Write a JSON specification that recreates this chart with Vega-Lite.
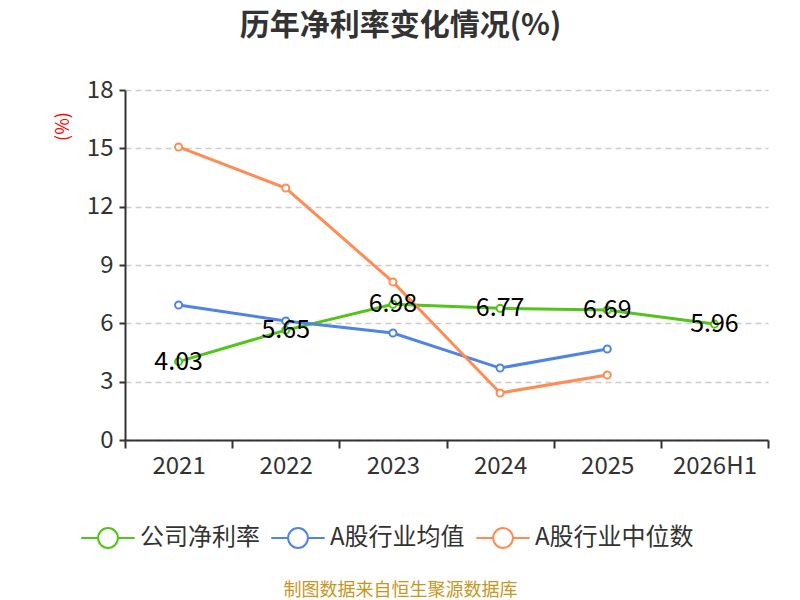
{
  "$schema": "https://vega.github.io/schema/vega-lite/v6.json",
  "width": 643,
  "height": 350,
  "autosize": {"type": "none"},
  "padding": {"left": 125, "top": 90, "right": 32, "bottom": 160},
  "background": "white",
  "config": {
    "view": {"stroke": null},
    "font": "Noto Sans CJK SC"
  },
  "title": {
    "text": "历年净利率变化情况(%)",
    "font": "Noto Sans CJK SC",
    "fontSize": 30,
    "fontWeight": "bold",
    "color": "#333333",
    "anchor": "middle",
    "dx": -46,
    "offset": 37
  },
  "data": {
    "values": [
      {"year": "2021", "series": "公司净利率", "value": 4.03},
      {"year": "2022", "series": "公司净利率", "value": 5.65},
      {"year": "2023", "series": "公司净利率", "value": 6.98},
      {"year": "2024", "series": "公司净利率", "value": 6.77},
      {"year": "2025", "series": "公司净利率", "value": 6.69},
      {"year": "2026H1", "series": "公司净利率", "value": 5.96},
      {"year": "2021", "series": "A股行业均值", "value": 6.94},
      {"year": "2022", "series": "A股行业均值", "value": 6.12},
      {"year": "2023", "series": "A股行业均值", "value": 5.5},
      {"year": "2024", "series": "A股行业均值", "value": 3.7},
      {"year": "2025", "series": "A股行业均值", "value": 4.68},
      {"year": "2021", "series": "A股行业中位数", "value": 15.07},
      {"year": "2022", "series": "A股行业中位数", "value": 12.96},
      {"year": "2023", "series": "A股行业中位数", "value": 8.13},
      {"year": "2024", "series": "A股行业中位数", "value": 2.42},
      {"year": "2025", "series": "A股行业中位数", "value": 3.34}
    ]
  },
  "encoding": {
    "x": {
      "field": "year",
      "type": "ordinal",
      "sort": null,
      "scale": {"type": "band", "paddingInner": 0, "paddingOuter": 0},
      "axis": {
        "tickBand": "extent",
        "labelAngle": 0,
        "labelFontSize": 24,
        "labelColor": "#333333",
        "labelPadding": 6,
        "domainColor": "#333333",
        "domainWidth": 2,
        "tickColor": "#333333",
        "tickWidth": 2,
        "tickSize": 8,
        "grid": false,
        "title": "制图数据来自恒生聚源数据库",
        "titleColor": "#c8961e",
        "titleFontSize": 18,
        "titleFontWeight": "normal",
        "titleX": 275,
        "titleY": 150,
        "titleAlign": "center",
        "titleBaseline": "middle"
      }
    },
    "y": {
      "field": "value",
      "type": "quantitative",
      "scale": {"domain": [0, 18], "nice": false},
      "axis": {
        "values": [0, 3, 6, 9, 12, 15, 18],
        "labelFontSize": 24,
        "labelColor": "#333333",
        "labelPadding": 6,
        "domainColor": "#333333",
        "domainWidth": 2,
        "tickColor": "#333333",
        "tickWidth": 2,
        "tickSize": 6,
        "grid": true,
        "gridColor": "#cccccc",
        "gridDash": [6, 4],
        "gridWidth": 1.5,
        "title": "(%)",
        "titleColor": "#ff0000",
        "titleFontSize": 18,
        "titleFontWeight": "normal",
        "titleAngle": 270,
        "titleX": -62,
        "titleY": 36,
        "titleAlign": "center",
        "titleBaseline": "middle"
      }
    }
  },
  "layer": [
    {
      "mark": {
        "type": "line",
        "strokeWidth": 3,
        "point": {"filled": false, "fill": "white", "size": 50, "strokeWidth": 2}
      },
      "encoding": {
        "color": {
          "field": "series",
          "type": "nominal",
          "scale": {
            "domain": ["公司净利率", "A股行业均值", "A股行业中位数"],
            "range": ["#52c41a", "#4f84e2", "#ff8c55"]
          },
          "legend": {
            "orient": "none",
            "legendX": -45,
            "legendY": 420,
            "direction": "horizontal",
            "title": null,
            "gridAlign": "none",
            "symbolType": "M-1,0L-0.37,0M0.37,0L1,0M0.37,0A0.37,0.37,0,1,1,-0.37,0A0.37,0.37,0,1,1,0.37,0Z",
            "symbolSize": 2860,
            "symbolStrokeWidth": 2,
            "symbolFillColor": "white",
            "labelFontSize": 24,
            "labelColor": "#333333",
            "labelOffset": 4,
            "columnPadding": 7
          }
        }
      }
    },
    {
      "transform": [{"filter": "datum.series === '公司净利率'"}],
      "mark": {"type": "text", "fontSize": 25, "color": "#000000", "baseline": "middle", "align": "center"},
      "encoding": {
        "text": {"field": "value", "type": "quantitative", "format": ".2f"}
      }
    }
  ]
}
